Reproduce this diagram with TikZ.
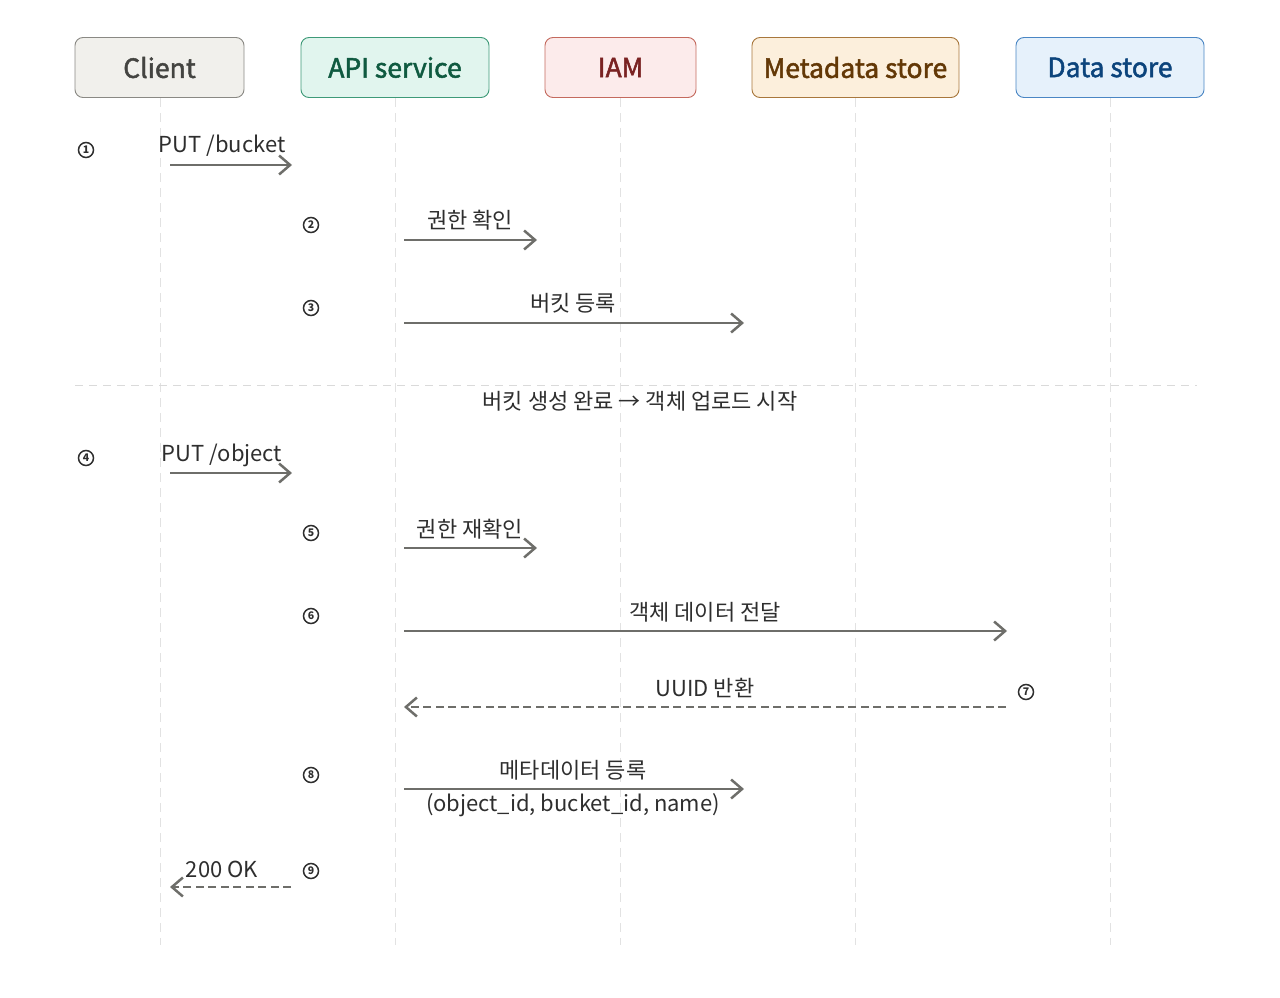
\documentclass[tikz,border=0pt]{standalone}
\usepackage{fontspec}
\setmainfont{Noto Sans CJK KR}
\newfontfamily\hdrfont{Noto Sans CJK KR}[FakeBold=1.8]
\usetikzlibrary{arrows.meta}
\definecolor{msg}{HTML}{6E6E6A}
\definecolor{life}{HTML}{E2E2E2}
\definecolor{sep}{HTML}{DADADA}
\definecolor{txt}{HTML}{2E2E2E}
\definecolor{cfill}{HTML}{F1F0EC}\definecolor{cdraw}{HTML}{8A8984}\definecolor{ctext}{HTML}{444441}
\definecolor{afill}{HTML}{E1F5EE}\definecolor{adraw}{HTML}{3E9A78}\definecolor{atext}{HTML}{0F5A40}
\definecolor{ifill}{HTML}{FCEBEB}\definecolor{idraw}{HTML}{C46A5E}\definecolor{itext}{HTML}{7A2222}
\definecolor{mfill}{HTML}{FCEFDC}\definecolor{mdraw}{HTML}{A8773C}\definecolor{mtext}{HTML}{633806}
\definecolor{dfill}{HTML}{E6F1FB}\definecolor{ddraw}{HTML}{4A86C4}\definecolor{dtext}{HTML}{0C447C}
\tikzset{
  x=1pt,y=-1pt,
  hdr/.style={draw, rounded corners=8pt, line width=0.9pt, minimum height=60pt, inner sep=0pt, font=\hdrfont\fontsize{26.5}{31}\selectfont},
  lifeline/.style={draw=life, line width=1pt, dash pattern=on 9pt off 6pt},
  sepline/.style={draw=sep, line width=1pt, dash pattern=on 8pt off 6pt},
  msgline/.style={draw=msg, line width=2.8pt, -{Straight Barb[length=11pt,width=19pt,line width=2.5pt]}},
  retline/.style={msgline, dash pattern=on 8pt off 4.5pt},
  lbl/.style={text=txt, font=\fontsize{22}{26}\selectfont, inner sep=0pt},
  num/.style={draw=txt, circle, line width=1.5pt, minimum size=15pt, inner sep=0pt, text=txt, font=\fontsize{10.5}{12}\selectfont\bfseries},
}
\begin{document}
\begin{tikzpicture}
\useasboundingbox (0,0) rectangle (1280,998);
% lifelines
\foreach \n/\x in {c/160,a/395,i/620,m/855,d/1110}{
  \coordinate (\n top) at (\x,98);
  \coordinate (\n bot) at (\x,945);
  \draw[lifeline] (\n top) -- (\n bot);
}
% headers
\node[hdr, fill=cfill, draw=cdraw, text=ctext, minimum width=169pt] (client) at (159.5,67.5) {Client};
\node[hdr, fill=afill, draw=adraw, text=atext, minimum width=188pt] (api) at (395,67.5) {API service};
\node[hdr, fill=ifill, draw=idraw, text=itext, minimum width=151pt] (iam) at (620.5,67.5) {IAM};
\node[hdr, fill=mfill, draw=mdraw, text=mtext, minimum width=207pt] (meta) at (855.5,67.5) {Metadata store};
\node[hdr, fill=dfill, draw=ddraw, text=dtext, minimum width=188pt] (data) at (1110,67.5) {Data store};
% separator
\coordinate (sepL) at (75,385);
\coordinate (sepR) at (1197,385);
\draw[sepline] (sepL) -- (sepR);
\node[lbl] (septext) at (640,401) {버킷 생성 완료 → 객체 업로드 시작};
% step numbers
\node[num] (n1) at (86,150) {1};
\node[num] (n2) at (311,225) {2};
\node[num] (n3) at (311,308) {3};
\node[num] (n4) at (86,458) {4};
\node[num] (n5) at (311,533) {5};
\node[num] (n6) at (311,616) {6};
\node[num] (n7) at (1026,692) {7};
\node[num] (n8) at (311,775) {8};
\node[num] (n9) at (311,871) {9};
% message endpoints
\coordinate (m1s) at (170,165); \coordinate (m1e) at (292,165);
\coordinate (m2s) at (404,240); \coordinate (m2e) at (537,240);
\coordinate (m3s) at (404,323); \coordinate (m3e) at (744,323);
\coordinate (m4s) at (170,473); \coordinate (m4e) at (292,473);
\coordinate (m5s) at (404,548); \coordinate (m5e) at (537,548);
\coordinate (m6s) at (404,631); \coordinate (m6e) at (1007,631);
\coordinate (m7s) at (1006,707); \coordinate (m7e) at (404,707);
\coordinate (m8s) at (404,789); \coordinate (m8e) at (744,789);
\coordinate (m9s) at (291,887); \coordinate (m9e) at (170,887);
\draw[msgline] (m1s) -- (m1e);
\draw[msgline] (m2s) -- (m2e);
\draw[msgline] (m3s) -- (m3e);
\draw[msgline] (m4s) -- (m4e);
\draw[msgline] (m5s) -- (m5e);
\draw[msgline] (m6s) -- (m6e);
\draw[retline] (m7s) -- (m7e);
\draw[msgline] (m8s) -- (m8e);
\draw[retline] (m9s) -- (m9e);
% labels
\node[lbl] (l1) at (222,146) {PUT /bucket};
\node[lbl] (l2) at (470,220) {권한 확인};
\node[lbl] (l3) at (573,303) {버킷 등록};
\node[lbl] (l4) at (222,455) {PUT /object};
\node[lbl] (l5) at (470,529) {권한 재확인};
\node[lbl] (l6) at (705,612) {객체 데이터 전달};
\node[lbl] (l7) at (705,688) {UUID 반환};
\node[lbl] (l8) at (573,770) {메타데이터 등록};
\node[lbl] (l8b) at (573,805) {(object\_id, bucket\_id, name)};
\node[lbl] (l9) at (222,869) {200 OK};
\end{tikzpicture}
\end{document}
